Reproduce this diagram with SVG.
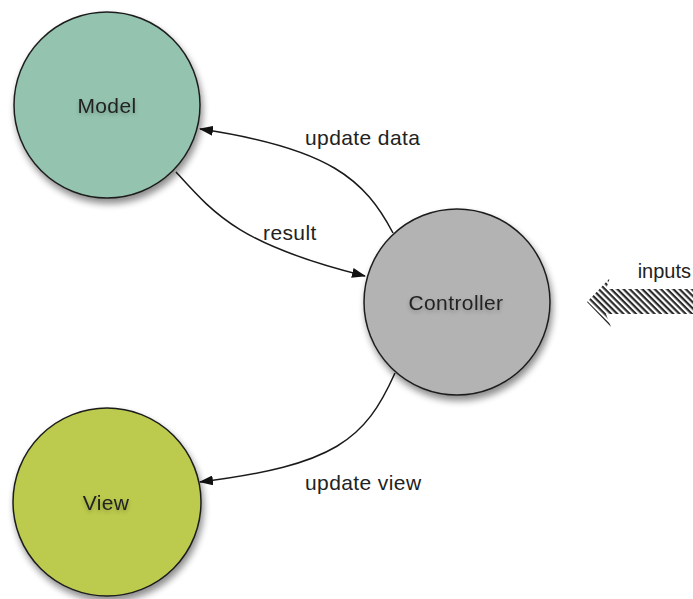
<svg xmlns="http://www.w3.org/2000/svg" width="693" height="599" viewBox="0 0 693 599">
<style>
.node{stroke:#1e1e1e;stroke-width:1.5}
.lbl{font-family:"Liberation Sans",Arial,sans-serif;font-size:21px;letter-spacing:0.4px;fill:#222}
.edge{fill:none;stroke:#1a1a1a;stroke-width:1.5;marker-end:url(#ah)}
.elbl{font-family:"Liberation Sans",Arial,sans-serif;font-size:21px;letter-spacing:0.4px;fill:#222}
</style>
<defs>
<filter id="sh" x="-20%" y="-20%" width="150%" height="150%">
<feGaussianBlur in="SourceAlpha" stdDeviation="3.5"/>
<feOffset dx="2" dy="5" result="b"/>
<feComponentTransfer><feFuncA type="linear" slope="0.45"/></feComponentTransfer>
<feMerge><feMergeNode/><feMergeNode in="SourceGraphic"/></feMerge>
</filter>
<filter id="tsh" x="-20%" y="-40%" width="140%" height="200%">
<feGaussianBlur in="SourceAlpha" stdDeviation="2"/>
<feOffset dx="0" dy="2"/>
<feComponentTransfer><feFuncA type="linear" slope="0.25"/></feComponentTransfer>
<feMerge><feMergeNode/><feMergeNode in="SourceGraphic"/></feMerge>
</filter>
<marker id="ah" viewBox="0 0 14 10" refX="13" refY="5" markerWidth="14" markerHeight="10" markerUnits="userSpaceOnUse" orient="auto">
<path d="M0,0 L14,5 L0,10 Z" fill="#111"/>
</marker>
<pattern id="hatch" width="6" height="4.4" patternUnits="userSpaceOnUse" patternTransform="rotate(45)">
<rect width="6" height="4.4" fill="#fff"/>
<rect width="6" height="2.2" fill="#2a2a2a"/>
</pattern>
</defs>

<g id="connectors">
<path class="edge" d="M393,233 C365,180 330,148 200,129"/>
<path class="edge" d="M176,172 C215,215 240,245 365,276"/>
<path class="edge" d="M395,373 C365,440 335,465 200,482"/>
<text class="elbl" x="305" y="145">update data</text>
<text class="elbl" x="263" y="240">result</text>
<text class="elbl" x="305" y="490">update view</text>
</g>

<g id="model">
<circle class="node" cx="107" cy="105" r="93" fill="#94c4b0" filter="url(#sh)"/>
<text class="lbl" x="107" y="113" text-anchor="middle" filter="url(#tsh)">Model</text>
</g>

<g id="controller">
<circle class="node" cx="457" cy="302" r="93" fill="#b3b3b3" filter="url(#sh)"/>
<text class="lbl" x="456" y="310" text-anchor="middle" filter="url(#tsh)">Controller</text>
</g>

<g id="view">
<circle class="node" cx="107" cy="502" r="94" fill="#bccb4d" filter="url(#sh)"/>
<text class="lbl" x="106" y="510" text-anchor="middle" filter="url(#tsh)">View</text>
</g>

<g id="inputs">
<path d="M587,302 L610,278 L606,289 L693,289 L693,314 L606,314 L611,327 Z" fill="url(#hatch)"/>
<text class="elbl" x="691" y="278" text-anchor="end" style="letter-spacing:0;font-size:20px">inputs</text>
</g>
</svg>
